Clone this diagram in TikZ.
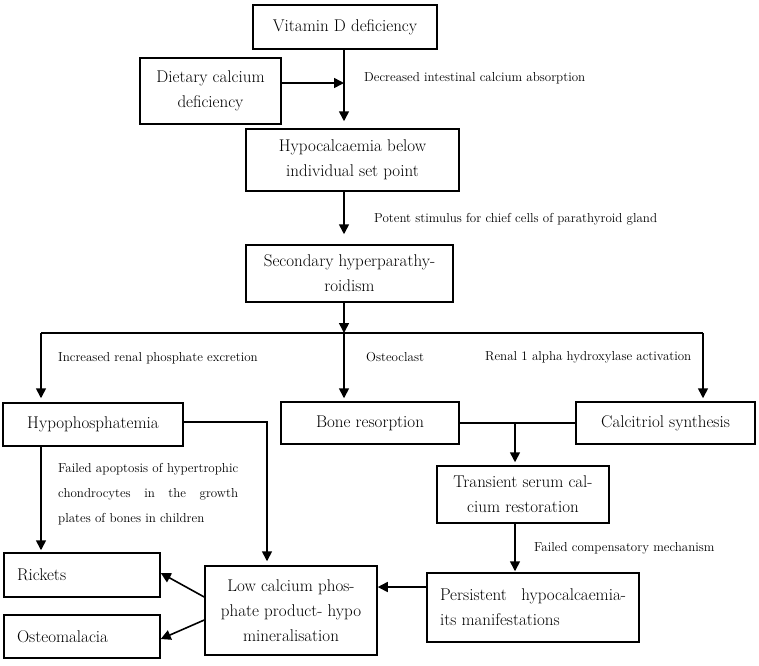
\documentclass[tikz,border=0pt]{standalone}
\usepackage{fontspec}
\usetikzlibrary{arrows.meta}
\newcommand{\boxfont}{\fontsize{17}{25}\selectfont}
\newcommand{\lblfont}{\fontsize{13}{25}\selectfont}
\begin{document}
\begin{tikzpicture}[x=1pt,y=-1pt,
  box/.style={draw,line width=1.5pt,inner sep=0pt,font=\boxfont,align=center},
  lbl/.style={inner sep=0pt,anchor=west,font=\lblfont},
  arr/.style={line width=1.6pt,-{Triangle[width=10pt,length=10pt]}},
  link/.style={line width=1.6pt}]
\useasboundingbox[fill=white] (0,0) rectangle (759,665);
% boxes
\node[box,minimum width=184,minimum height=44] (vitd) at (345,27) {Vitamin D deficiency};
\node[box,minimum width=141,minimum height=66] (diet) at (210.5,91) {Dietary calcium\\deficiency};
\node[box,minimum width=213,minimum height=62] (hypocal) at (352.5,160) {Hypocalcaemia below\\individual set point};
\node[box,minimum width=207,minimum height=57] (secpth) at (349.5,273.5) {Secondary hyperparathy-\\roidism};
\node[box,minimum width=180,minimum height=43] (hypoph) at (93,424.5) {Hypophosphatemia};
\node[box,minimum width=178,minimum height=42] (boneres) at (370,423) {Bone resorption};
\node[box,minimum width=179,minimum height=42] (calcit) at (665.5,423) {Calcitriol synthesis};
\node[box,minimum width=172,minimum height=57] (transca) at (523,494.5) {Transient serum cal-\\cium restoration};
\node[box,text width=130,inner xsep=13,align=left,minimum height=44] (rickets) at (82,575) {Rickets};
\node[box,text width=130,inner xsep=13,align=left,minimum height=43] (osteom) at (82,636.5) {Osteomalacia};
\node[box,minimum width=172,minimum height=89] (lowcap) at (291,610.5) {Low calcium phos-\\phate product- hypo\\mineralisation};
\node[box,text width=186,inner xsep=13,align=justify,minimum height=69] (perscal) at (533,607.5) {Persistent hypocalcaemia-\linebreak its manifestations};
% labels
\node[lbl] (lbabs) at (364,78) {Decreased intestinal calcium absorption};
\node[lbl] (lbpth) at (374,219) {Potent stimulus for chief cells of parathyroid gland};
\node[lbl] (lbren) at (58,358) {Increased renal phosphate excretion};
\node[lbl] (lbost) at (366,357) {Osteoclast};
\node[lbl] (lbhyd) at (485,357) {Renal 1 alpha hydroxylase activation};
\node[lbl,anchor=north west,text width=180,align=justify] (lbapo) at (58,463) {Failed apoptosis of hypertrophic\linebreak chondrocytes in the growth\linebreak plates of bones in children};
\node[lbl] (lbfail) at (534,548) {Failed compensatory mechanism};
% connectors
\coordinate (join) at (344,83);
\coordinate (bus) at (344,333);
\coordinate (busl) at (41,333);
\coordinate (busr) at (703,333);
\coordinate (bc) at (515,423);
\coordinate (hl) at (267,422);
\coordinate (pl) at (427,587);
\draw[arr,shorten >=7pt] (vitd.south -| join) -- (hypocal.north -| join);
\draw[arr] (diet.east |- join) -- (join);
\draw[arr,shorten >=10pt] (hypocal.south -| join) -- (secpth.north -| join);
\draw[arr] (secpth.south -| bus) -- (bus);
\draw[link] (busl) -- (busr);
\draw[arr,shorten >=4pt] (busl) -- (busl |- hypoph.north);
\draw[arr,shorten >=3pt] (bus) -- (bus |- boneres.north);
\draw[arr,shorten >=3pt] (busr) -- (busr |- calcit.north);
\draw[link] (boneres.east) -- (calcit.west);
\draw[arr,shorten >=3pt] (bc) -- (bc |- transca.north);
\draw[arr,shorten >=2pt] (hypoph.south -| busl) -- (rickets.north -| busl);
\draw[arr,shorten >=4pt] (hypoph.east |- hl) -- (hl) -- (hl |- lowcap.north);
\draw[arr,shorten >=1pt] (transca.south -| bc) -- (perscal.north -| bc);
\draw[arr] (pl) -- (pl -| lowcap.east);
\draw[arr] ([yshift=13.5pt]lowcap.west) -- ([yshift=2pt]rickets.east);
\draw[arr] ([yshift=-9.5pt]lowcap.west) -- ([yshift=-2.5pt]osteom.east);
\end{tikzpicture}
\end{document}
